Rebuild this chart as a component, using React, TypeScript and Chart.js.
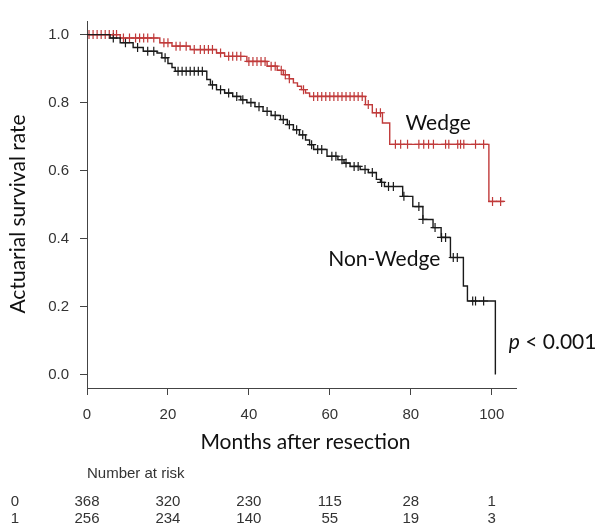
import React, { useEffect, useRef } from "react";
import { Chart, registerables } from "chart.js";

Chart.register(...registerables);

// ---- data ----
const xTickValues = [0, 20, 40, 60, 80, 100];
const yTickValues = [0, 0.2, 0.4, 0.6, 0.8, 1.0];

const wedgeTimes = [0, 8.2, 18, 21, 25.5, 32, 34, 39.5, 44.5, 47, 48.5, 50, 51, 52, 53, 54, 55, 68.8, 70.5, 73, 74.8, 99.3, 103];
const wedgeSurv = [1, 0.99, 0.976, 0.966, 0.956, 0.946, 0.936, 0.921, 0.907, 0.895, 0.882, 0.87, 0.858, 0.848, 0.838, 0.828, 0.818, 0.794, 0.77, 0.74, 0.677, 0.509, 0.509];
const wedgeCensor = [0.5, 1.5, 2.5, 3.5, 4.5, 5.5, 6.5, 7.3, 9, 10.5, 12, 13, 14, 15, 16.5, 19, 20, 22, 23, 24.5, 26.5, 28, 29, 30, 31, 33, 35, 36, 37, 38, 40, 41, 42, 43, 44, 45.5, 46.5, 48, 49, 50, 53.5, 56, 57, 58, 59, 60, 61, 62, 63, 64, 65, 66, 67, 68, 69.5, 71.5, 72.5, 76.2, 77.5, 79.2, 82, 83.2, 84.4, 85.6, 88.6, 89.4, 91.6, 92.3, 93.1, 96, 98, 100.2, 102.2];

const nonWedgeTimes = [0, 5.7, 8.2, 11.4, 13.9, 17.3, 18.5, 20, 21, 21.8, 29.6, 30.5, 32, 34, 36, 38, 39.5, 41.5, 43.5, 45.5, 47.8, 49.5, 51, 52.5, 54, 55, 56, 59.3, 62, 63.5, 65, 67.5, 69.5, 71.5, 72.5, 73.5, 78, 80.5, 83, 85.5, 87.5, 89.8, 93, 94, 100.9];
const nonWedgeSurv = [1, 0.99, 0.976, 0.962, 0.951, 0.946, 0.932, 0.915, 0.903, 0.892, 0.868, 0.852, 0.838, 0.828, 0.818, 0.808, 0.8, 0.788, 0.774, 0.762, 0.75, 0.735, 0.72, 0.705, 0.69, 0.676, 0.662, 0.642, 0.632, 0.622, 0.612, 0.603, 0.594, 0.574, 0.565, 0.553, 0.524, 0.494, 0.456, 0.432, 0.403, 0.344, 0.26, 0.216, 0];
const nonWedgeCensor = [6.5, 9.5, 12.5, 15, 16.5, 19.3, 22.5, 23.5, 24.5, 25.5, 26.5, 27.5, 28.5, 31, 33, 35, 37, 38.5, 40.5, 42.5, 44.5, 46.5, 48.5, 50, 51.8, 53.3, 55.5, 57, 58, 60.5, 61.5, 63, 64, 66, 67, 68.7, 70.5, 72.8, 74.5, 75.7, 78.3, 82, 83, 86, 87.6, 88.6, 90.5, 91.5, 95.3, 96, 98];

const riskTimes = [0, 20, 40, 60, 80, 100];
const riskGroupLabels = ["0", "1"];
const riskGroup0 = [368, 320, 230, 115, 28, 1];
const riskGroup1 = [256, 234, 140, 55, 19, 3];

// ---- styles ----
const RED = "rgb(192,58,58)";
const BLACK = "#1a1a1a";
const AXIS = "#444";
const TICK_FONT = "Liberation Sans";
const LABEL_FONT = "Lato";

function survAt(times: number[], surv: number[], t: number) {
  let s = surv[0];
  for (let i = 0; i < times.length; i++) {
    if (times[i] <= t) s = surv[i];
  }
  return s;
}

const textPlugin = {
  id: "kmText",
  afterDraw(chart: any) {
    const { ctx, scales } = chart;
    const x = scales.x;
    const y = scales.y;
    ctx.save();
    // curve labels
    ctx.fillStyle = "#111";
    ctx.textAlign = "left";
    ctx.textBaseline = "alphabetic";
    ctx.font = `21px ${LABEL_FONT}`;
    ctx.fillText("Wedge", x.getPixelForValue(78.7), y.getPixelForValue(0.72));
    ctx.fillText("Non-Wedge", x.getPixelForValue(59.6), y.getPixelForValue(0.318));
    // p value
    const px = x.getPixelForValue(104.2);
    const py = y.getPixelForValue(0.0735);
    ctx.font = `italic 21px ${LABEL_FONT}`;
    ctx.fillText("p", px, py);
    const pw = ctx.measureText("p").width;
    ctx.font = `21px ${LABEL_FONT}`;
    ctx.fillText(" < 0.001", px + pw, py);

    // axis titles
    ctx.fillStyle = "#111";
    ctx.font = `21px ${LABEL_FONT}`;
    ctx.textAlign = "center";
    ctx.fillText("Months after resection", (chart.chartArea.left + chart.chartArea.right) / 2 + 4, 449);
    ctx.save();
    ctx.translate(25, 214);
    ctx.rotate(-Math.PI / 2);
    ctx.textAlign = "center";
    ctx.textBaseline = "alphabetic";
    ctx.fillText("Actuarial survival rate", 0, 0);
    ctx.restore();

    // number at risk table
    ctx.fillStyle = "#333";
    ctx.font = `15px ${TICK_FONT}`;
    ctx.textAlign = "left";
    ctx.fillText("Number at risk", x.getPixelForValue(0), 478);
    const rows = [riskGroup0, riskGroup1];
    const rowY = [506, 523];
    rows.forEach((row, r) => {
      ctx.textAlign = "center";
      ctx.fillText(riskGroupLabels[r], 15, rowY[r]);
      row.forEach((n, i) => {
        ctx.fillText(String(n), x.getPixelForValue(riskTimes[i]), rowY[r]);
      });
    });
    ctx.restore();
  },
};

export default function App() {
  const canvasRef = useRef<HTMLCanvasElement | null>(null);

  useEffect(() => {
    if (!canvasRef.current) return;
    const lineData = (times: number[], surv: number[]) => times.map((t, i) => ({ x: t, y: surv[i] }));
    const censorData = (cens: number[], times: number[], surv: number[]) =>
      cens.map((t) => ({ x: t, y: survAt(times, surv, t) }));

    const chart = new Chart(canvasRef.current, {
      type: "scatter",
      data: {
        datasets: [
          {
            label: "Non-Wedge",
            data: lineData(nonWedgeTimes, nonWedgeSurv),
            showLine: true,
            stepped: true,
            borderColor: BLACK,
            borderWidth: 1.4,
            pointRadius: 0,
            fill: false,
          },
          {
            label: "Wedge",
            data: lineData(wedgeTimes, wedgeSurv),
            showLine: true,
            stepped: true,
            borderColor: RED,
            borderWidth: 1.4,
            pointRadius: 0,
            fill: false,
          },
          {
            label: "Non-Wedge censored",
            data: censorData(nonWedgeCensor, nonWedgeTimes, nonWedgeSurv),
            showLine: false,
            pointStyle: "cross",
            pointRadius: 4.5,
            pointBorderWidth: 1.2,
            borderColor: BLACK,
            backgroundColor: BLACK,
          },
          {
            label: "Wedge censored",
            data: censorData(wedgeCensor, wedgeTimes, wedgeSurv),
            showLine: false,
            pointStyle: "cross",
            pointRadius: 4.5,
            pointBorderWidth: 1.2,
            borderColor: RED,
            backgroundColor: RED,
          },
        ],
      } as any,
      options: {
        responsive: false,
        animation: false,
        devicePixelRatio: 1,
        layout: { padding: { left: 0, top: 21, right: 84, bottom: 0 } },
        plugins: { legend: { display: false }, tooltip: { enabled: false }, title: { display: false } },
        scales: {
          x: {
            type: "linear",
            position: "bottom",
            min: 0,
            max: 106,
            afterFit: (s: any) => {
              s.height = 139;
            },
            afterBuildTicks: (s: any) => {
              s.ticks = xTickValues.map((v) => ({ value: v }));
            },
            ticks: {
              autoSkip: false,
              maxRotation: 0,
              padding: 11,
              color: "#333",
              font: { family: TICK_FONT, size: 15 },
              callback: (v: any) => String(v),
            },
            grid: { display: true, drawOnChartArea: false, drawTicks: true, tickLength: 7, color: AXIS, lineWidth: 1 },
            border: { display: true, color: AXIS, width: 1 },
          },
          y: {
            type: "linear",
            min: -0.04,
            max: 1.04,
            afterFit: (s: any) => {
              s.width = 87;
            },
            afterBuildTicks: (s: any) => {
              s.ticks = yTickValues.map((v) => ({ value: v }));
            },
            ticks: {
              autoSkip: false,
              padding: 11,
              color: "#333",
              font: { family: TICK_FONT, size: 15 },
              callback: (v: any) => Number(v).toFixed(1),
            },
            grid: { display: true, drawOnChartArea: false, drawTicks: true, tickLength: 7, color: AXIS, lineWidth: 1 },
            border: { display: true, color: AXIS, width: 1 },
          },
        },
      } as any,
      plugins: [textPlugin],
    });
    return () => chart.destroy();
  }, []);

  return (
    <div style={{ position: "absolute", left: 0, top: 0, width: 600, height: 527, background: "#fff" }}>
      <canvas ref={canvasRef} width={600} height={527} />
    </div>
  );
}
